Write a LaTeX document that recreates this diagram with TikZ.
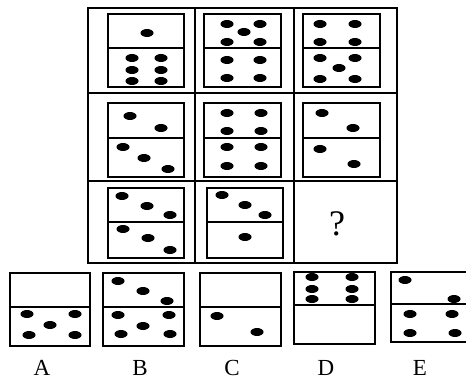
\documentclass[tikz,border=0pt]{standalone}
\usepackage{fontspec}
\setmainfont{Liberation Serif}
\usepackage{tikz}

\tikzset{
    cell/.style={line width=1.8pt},
    tile/.style={line width=2.4pt},
    pip/.style={fill=black},
    choice/.style={font=\fontsize{23}{23}\selectfont}
}

\begin{document}
\begin{tikzpicture}[x=1pt, y=-1pt]
    \useasboundingbox (0, 0) rectangle (466, 385);
    \clip (0, 0) rectangle (466, 385);
    % the 3x3 grid
    \draw[cell] (88, 8) rectangle (397, 263);
    \draw[cell] (195, 8) -- (195, 263);
    \draw[cell] (294, 8) -- (294, 263);
    \draw[cell] (88, 93) -- (397, 93);
    \draw[cell] (88, 181) -- (397, 181);
    % dominoes: left/top/right/bottom/middle
    \foreach \l/\t/\r/\b/\m in {108/14/184/87/48, 204/14/281/87/48, 303/14/380/87/48,
            108/103/184/177/138, 204/103/281/177/138, 303/103/380/177/138,
            108/188/184/258/222, 207/188/283/258/222,
            10/273/90/346/307, 103/273/184/346/307, 200/273/281/346/307,
            294/272/375/344/305, 391/272/472/342/304} {
        \draw[tile] (\l, \t) rectangle (\r, \b);
        \draw[tile] (\l, \m) -- (\r, \m);
    }
    % pips
    \foreach \x/\y in {147/33, 132/58, 161/58, 132/70, 161/70, 132/81, 161/81,
            227/24, 260/24, 244/32, 227/42, 260/42, 227/60, 260/60, 227/78, 260/78,
            320/24, 355/24, 320/42, 355/42, 320/58, 355/58, 339/68, 320/79, 355/79,
            130/116, 161/128, 123/147, 144/158, 168/169,
            227/113, 261/113, 227/131, 261/131, 227/147, 261/147, 227/166, 261/166,
            322/113, 353/128, 320/149, 354/164,
            122/196, 147/206, 170/215, 123/229, 148/238, 170/250,
            222/195, 245/205, 265/215, 245/237,
            27/314, 75/314, 50/325, 29/335, 75/335,
            118/281, 143/291, 167/301, 118/315, 169/315, 143/326, 121/334, 170/334,
            217/316, 257/332,
            312/277, 352/277, 312/289, 352/289, 312/299, 352/299,
            405/280, 454/299, 410/314, 452/314, 410/333, 455/333}
        \fill[pip] (\x, \y) ellipse [x radius=6.5pt, y radius=4pt];
    \node[font=\fontsize{36}{36}\selectfont] (ask) at (337, 224) {?};
    % answer letters
    \node[choice] (lA) at (42, 368) {A};
    \node[choice] (lB) at (140, 368) {B};
    \node[choice] (lC) at (232, 368) {C};
    \node[choice] (lD) at (326, 368) {D};
    \node[choice] (lE) at (420, 368) {E};
\end{tikzpicture}
\end{document}
